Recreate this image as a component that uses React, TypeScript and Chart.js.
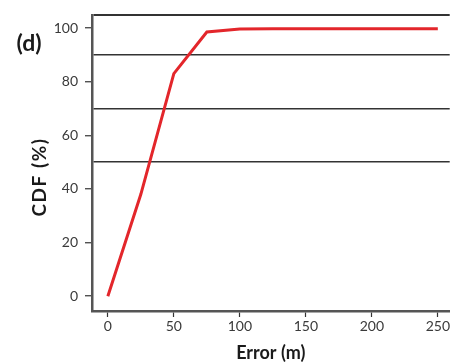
import React, { useEffect, useRef } from "react";
import { Chart, registerables } from "chart.js";

Chart.register(...registerables);

const errorMeters = [0, 25, 50, 75, 100, 125, 150, 175, 200, 225, 250];
const cdfPercent = [0, 38, 83, 98.5, 99.6, 99.7, 99.7, 99.7, 99.7, 99.7, 99.7];
const xTickValues = [0, 50, 100, 150, 200, 250];
const yTickValues = [0, 20, 40, 60, 80, 100];
const refLines = [50, 70, 90];
const panelLabel = "(d)";
const xTitle = "Error (m)";
const yTitle = "CDF (%)";

const FONT = "Lato, 'Open Sans', sans-serif";
const Y_MIN = -5.5;
const Y_MAX = 104.7;

const overlayPlugin = {
  id: "overlay",
  afterDraw(chart: any) {
    const ctx = chart.ctx;
    ctx.save();
    ctx.fillStyle = "#1a1a1a";
    ctx.font = `bold 23px ${FONT}`;
    ctx.textAlign = "center";
    ctx.textBaseline = "middle";
    ctx.fillText(panelLabel, 29, 44);
    ctx.translate(40, 177);
    ctx.rotate(-Math.PI / 2);
    ctx.font = `bold 19px ${FONT}`;
    try { (ctx as any).letterSpacing = "1.5px"; } catch (e) {}
    ctx.fillText(yTitle, 0, 0);
    ctx.restore();
  },
};

export default function App() {
  const ref = useRef<HTMLCanvasElement | null>(null);
  useEffect(() => {
    if (!ref.current) return;
    const allY = [Y_MIN, ...yTickValues, ...refLines, Y_MAX].sort((a, b) => a - b);
    const chart = new Chart(ref.current, {
      type: "line",
      data: {
        datasets: [
          {
            data: errorMeters.map((x, i) => ({ x, y: cdfPercent[i] })),
            borderColor: "#e3262b",
            borderWidth: 3,
            pointRadius: 0,
            tension: 0,
          },
        ],
      },
      options: {
        animation: false,
        responsive: false,
        layout: { padding: { left: 0, right: 0, top: 0, bottom: 0 } },
        plugins: { legend: { display: false }, tooltip: { enabled: false } },
        scales: {
          x: {
            type: "linear",
            min: -12,
            max: 259,
            afterBuildTicks: (s: any) => {
              s.ticks = xTickValues.map((v) => ({ value: v }));
            },
            afterFit: (s: any) => {
              s.height = 364 - 14 - 297;
            },
            grid: { drawOnChartArea: false, tickLength: 6, tickColor: "#333", tickWidth: 1.2 },
            border: { display: true, color: "#555", width: 2.5 },
            ticks: {
              color: "#3a3a3a",
              font: { family: FONT, size: 14 },
              padding: 1,
              maxRotation: 0,
            },
            title: {
              display: true,
              text: xTitle,
              color: "#1a1a1a",
              font: { family: FONT, size: 18, weight: "bold" },
              padding: { top: 1, bottom: 0 },
            },
          },
          y: {
            type: "linear",
            min: Y_MIN,
            max: Y_MAX,
            afterBuildTicks: (s: any) => {
              s.ticks = allY.map((v) => ({ value: v }));
            },
            afterFit: (s: any) => {
              s.width = 92;
            },
            grid: {
              drawOnChartArea: true,
              tickLength: 7,
              color: (c: any) => {
                const v = c.tick ? c.tick.value : NaN;
                return refLines.includes(v) || v === Y_MAX ? "#333" : "rgba(0,0,0,0)";
              },
              lineWidth: (c: any) => {
                const v = c.tick ? c.tick.value : NaN;
                return v === Y_MAX ? 2 : 1.5;
              },
              tickColor: (c: any) => {
                const v = c.tick ? c.tick.value : NaN;
                return yTickValues.includes(v) ? "#333" : "rgba(0,0,0,0)";
              },
              tickWidth: 1.2,
            },
            border: { display: true, color: "#555", width: 2.5 },
            ticks: {
              color: "#3a3a3a",
              font: { family: FONT, size: 14 },
              padding: 7,
              callback: (v: any) => (yTickValues.includes(Number(v)) ? String(v) : ""),
            },
          },
        },
      },
      plugins: [overlayPlugin],
    } as any);
    return () => chart.destroy();
  }, []);
  return (
    <div style={{ position: "absolute", left: 0, top: 0, width: 451, height: 364, background: "#fff" }}>
      <canvas ref={ref} width={451} height={364} style={{ display: "block" }} />
    </div>
  );
}
